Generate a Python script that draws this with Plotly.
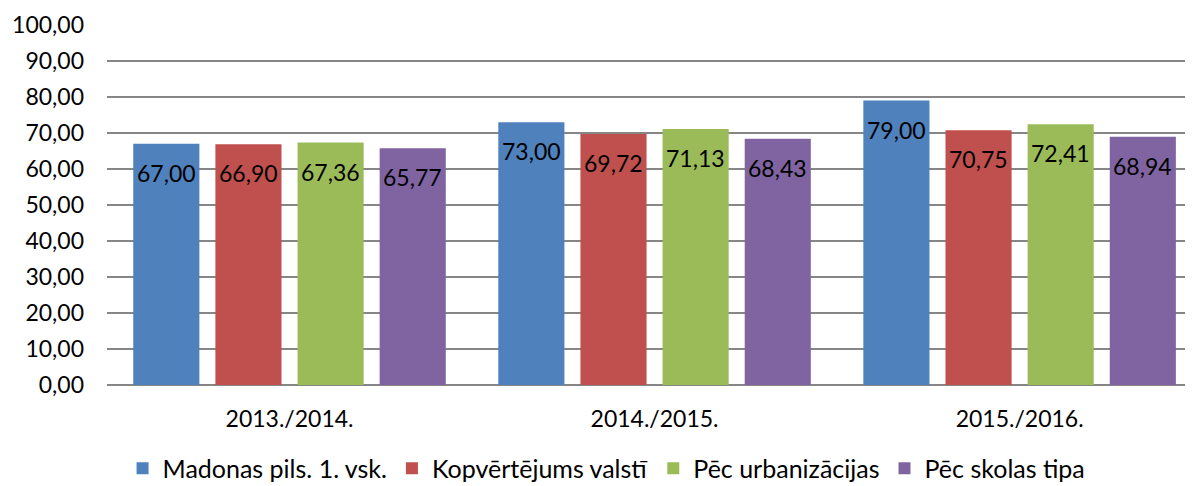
import plotly.graph_objects as go

categories = ["2013./2014.", "2014./2015.", "2015./2016."]
series_names = ["Madonas pils. 1. vsk.", "Kopvērtējums valstī", "Pēc urbanizācijas", "Pēc skolas tipa"]
madona = [67.00, 73.00, 79.00]
valsti = [66.90, 69.72, 70.75]
urban = [67.36, 71.13, 72.41]
skolas = [65.77, 68.43, 68.94]
series_values = [madona, valsti, urban, skolas]
colors = ["#4F81BD", "#C0504D", "#9BBB59", "#8064A2"]
y_ticks = [0, 10, 20, 30, 40, 50, 60, 70, 80, 90, 100]

FONT = "Lato"
FS = 23
fig = go.Figure()
for name, vals, col in zip(series_names, series_values, colors):
    fig.add_trace(go.Bar(
        x=categories, y=vals, name=name,
        marker=dict(color=col, line=dict(width=0)),
    ))

pitch = 82
annotations = []
for i, vals in enumerate(series_values):
    for c, v in zip(categories, vals):
        annotations.append(dict(
            x=c, y=v, xref="x", yref="y", text=f"{v:.2f}".replace(".", ","),
            showarrow=False, xshift=(i - 1.5) * pitch, yshift=-29,
            yanchor="middle", font=dict(family=FONT, size=FS, color="black"),
        ))

fig.update_layout(
    width=1185, height=478,
    margin=dict(l=99, r=0, t=17, b=101, autoexpand=False),
    plot_bgcolor="white", paper_bgcolor="white",
    barmode="group", bargap=0.10, bargroupgap=0.195,
    separators=",.",
    font=dict(family=FONT, size=FS, color="black"),
    annotations=annotations,
    showlegend=True,
    legend=dict(orientation="h", x=0.46, xanchor="center", y=-0.232, yanchor="middle",
                font=dict(family=FONT, size=25, color="black"),
                itemsizing="constant", traceorder="normal", itemwidth=30,
                tracegroupgap=0),
    xaxis=dict(range=[-0.5, 2.475], showgrid=False, showline=False, ticks="",
               automargin=False, ticklabelstandoff=18, tickfont=dict(size=FS)),
    yaxis=dict(range=[0, 100], tickvals=y_ticks, tickformat=".2f", automargin=False,
               showgrid=True, gridcolor="#868686", gridwidth=2,
               zeroline=True, zerolinecolor="#868686", zerolinewidth=2,
               showline=False, ticks="", ticklabelstandoff=22, tickfont=dict(size=FS)),
)

fig.write_html("out.html")
